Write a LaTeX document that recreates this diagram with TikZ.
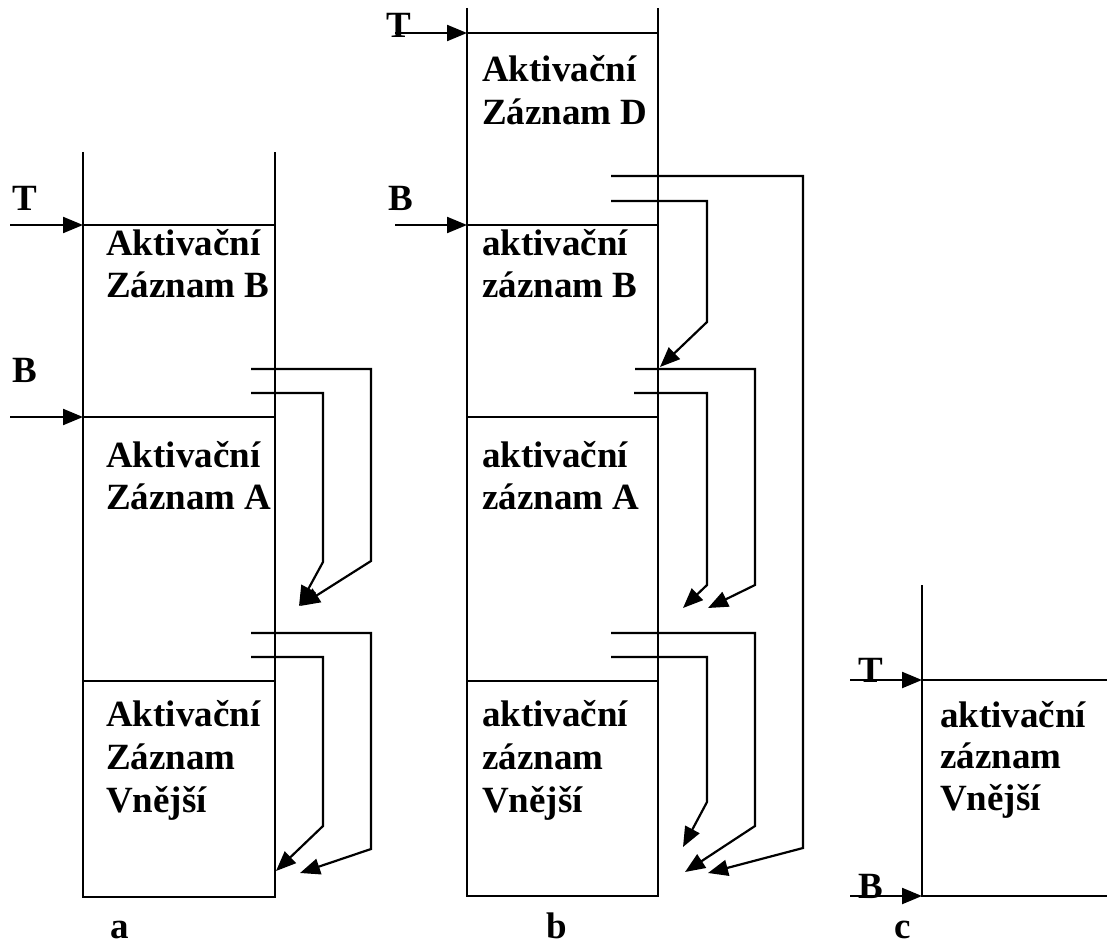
\documentclass[tikz,border=0pt]{standalone}
\usepackage{fontspec}
\setmainfont{Liberation Serif}
\usetikzlibrary{arrows.meta}
\begin{document}
\begin{tikzpicture}[x=1pt,y=-1pt,
  ln/.style={line width=2.2pt},
  arr/.style={line width=2.2pt,-{Triangle[length=20pt,width=16pt]}},
  txt/.style={anchor=base west,inner sep=0pt,font=\fontsize{37}{42}\selectfont\bfseries},
  lbl/.style={anchor=base,inner sep=0pt,font=\fontsize{37}{42}\selectfont\bfseries}]
\useasboundingbox (0,0) rectangle (1107,944);
% ---------- a ----------
\coordinate (aTL) at (83,152); \coordinate (aBL) at (83,897);
\coordinate (aTR) at (275,152); \coordinate (aBR) at (275,897);
\draw[ln] (aTL) -- (aBL) -- (aBR) -- (aTR);
\draw[ln] (83,225) -- (275,225);
\draw[ln] (83,417) -- (275,417);
\draw[ln] (83,681) -- (275,681);
\coordinate (aT0) at (10,225); \coordinate (aT1) at (83,225);
\coordinate (aB0) at (10,417); \coordinate (aB1) at (83,417);
\draw[arr] (aT0) -- (aT1);
\draw[arr] (aB0) -- (aB1);
\node[txt] (aTl) at (12,210) {T};
\node[txt] (aBl) at (12,382) {B};
\node[txt] (a1) at (106,255) {Aktivační};
\node[txt] (a2) at (106,297) {Záznam B};
\node[txt] (a3) at (106,467) {Aktivační};
\node[txt] (a4) at (106,509) {Záznam A};
\node[txt] (a5) at (106,726) {Aktivační};
\node[txt] (a6) at (106,769) {Záznam};
\node[txt] (a7) at (106,812) {Vnější};
\draw[arr] (251,369) -- (371,369) -- (371,561) -- (300,606);
\draw[arr] (251,393) -- (323,393) -- (323,562) -- (299,606);
\draw[arr] (251,633) -- (371,633) -- (371,849) -- (300,873);
\draw[arr] (251,657) -- (323,657) -- (323,826) -- (276,871);
\node[lbl] (la) at (120,938) {a};
% ---------- b ----------
\coordinate (bTL) at (467,8); \coordinate (bBL) at (467,896);
\coordinate (bTR) at (658,8); \coordinate (bBR) at (658,896);
\draw[ln] (bTL) -- (bBL) -- (bBR) -- (bTR);
\draw[ln] (467,33) -- (658,33);
\draw[ln] (467,225) -- (658,225);
\draw[ln] (467,417) -- (658,417);
\draw[ln] (467,681) -- (658,681);
\node[txt] (bTl) at (386,38) {T};
\node[txt] (bBl) at (388,210) {B};
\draw[arr] (395,33) -- (467,33);
\draw[arr] (395,225) -- (467,225);
\node[txt] (b1) at (482,82) {Aktivační};
\node[txt] (b2) at (482,125) {Záznam D};
\node[txt] (b3) at (482,255) {aktivační};
\node[txt] (b4) at (482,297) {záznam B};
\node[txt] (b5) at (482,467) {aktivační};
\node[txt] (b6) at (482,509) {záznam A};
\node[txt] (b7) at (482,726) {aktivační};
\node[txt] (b8) at (482,769) {záznam};
\node[txt] (b9) at (482,812) {Vnější};
\draw[arr] (611,176) -- (803,176) -- (803,848) -- (708,873);
\draw[arr] (611,201) -- (707,201) -- (707,322) -- (660,367);
\draw[arr] (635,369) -- (755,369) -- (755,585) -- (708,608);
\draw[arr] (634,393) -- (707,393) -- (707,585) -- (683,608);
\draw[arr] (611,633) -- (755,633) -- (755,826) -- (685,872);
\draw[arr] (611,657) -- (707,657) -- (707,802) -- (683,847);
\node[lbl] (lb) at (557,938) {b};
% ---------- c ----------
\draw[ln] (922,585) -- (922,897);
\draw[ln] (922,680) -- (1107,680);
\draw[ln] (922,896) -- (1107,896);
\node[txt] (cTl) at (858,682) {T};
\node[txt] (cBl) at (858,898) {B};
\draw[arr] (850,680) -- (922,680);
\draw[arr] (850,896) -- (922,896);
\node[txt] (c1) at (940,727) {aktivační};
\node[txt] (c2) at (940,768) {záznam};
\node[txt] (c3) at (940,810) {Vnější};
\node[lbl] (lc) at (903,938) {c};
\end{tikzpicture}
\end{document}
